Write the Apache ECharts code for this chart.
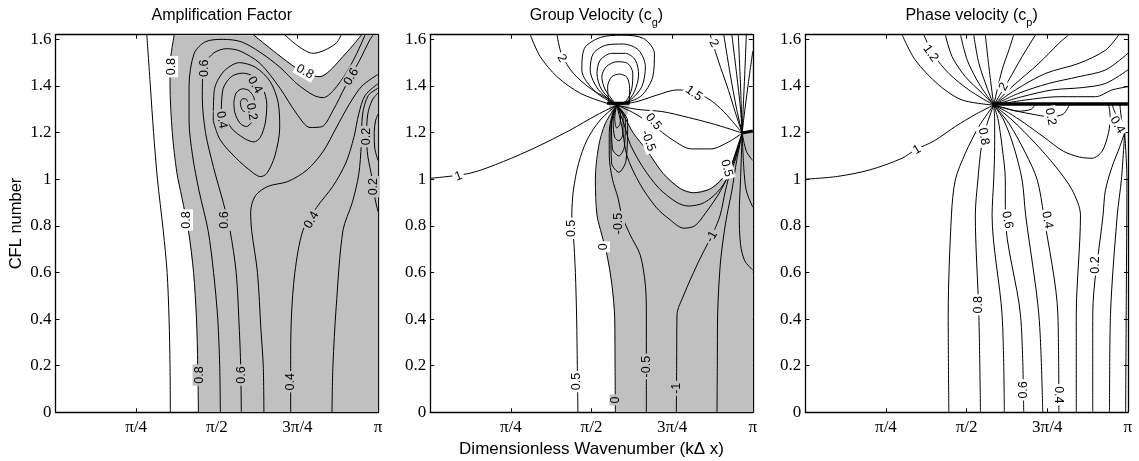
<!DOCTYPE html>
<html><head><meta charset="utf-8">
<script src="https://cdn.jsdelivr.net/npm/echarts@6/dist/echarts.min.js"></script>
<style>html,body{margin:0;padding:0;background:#fff}#c{width:1139px;height:461px}</style>
</head><body><div id="c"></div>
<script>
// ---------- axes ----------
const xTickLabels = ['', 'π/4', 'π/2', '3π/4', 'π'];   // x in units of π
const yMax = 1.62;
const panelTitles = ['Amplification Factor', 'Group Velocity (c{s|g})', 'Phase velocity (c{s|p})'];
const yName = 'CFL number';
const xName = 'Dimensionless Wavenumber (kΔ x)';

// ---------- panel 1 : amplification factor contours [k/π, CFL] ----------
const amp09 = [[0.356,0],[0.355,0.2],[0.352,0.4],[0.346,0.6],[0.334,0.78],[0.316,1.0],[0.304,1.2],[0.294,1.4],[0.283,1.62]];
const amp08a = [[0.443,0],[0.441,0.2],[0.437,0.4],[0.428,0.6],[0.412,0.78],[0.392,0.92],[0.376,1.03],[0.362,1.2],[0.355,1.41],[0.357,1.52],[0.368,1.62]];
const amp08b = [[0.613,1.62],[0.685,1.54],[0.747,1.476],[0.79,1.447],[0.82,1.44],[0.85,1.465],[0.881,1.511],[0.923,1.576],[0.949,1.62]];
const amp09b = [[0.71,1.62],[0.757,1.566],[0.799,1.54],[0.835,1.554],[0.871,1.585],[0.886,1.62]];
const amp07 = [[0.511,0],[0.509,0.2],[0.503,0.4],[0.49,0.6],[0.473,0.78],[0.445,0.95],[0.425,1.1],[0.414,1.25],[0.414,1.4],[0.43,1.54],[0.465,1.59],[0.52,1.6],[0.575,1.59],[0.634,1.545],[0.696,1.48],[0.748,1.41],[0.8,1.36],[0.83,1.35],[0.861,1.38],[0.903,1.46],[0.934,1.54],[0.96,1.62]];
const amp06 = [[0.576,0],[0.574,0.2],[0.57,0.35],[0.56,0.6],[0.541,0.78],[0.52,0.9],[0.49,1.05],[0.465,1.2],[0.455,1.35],[0.458,1.476],[0.489,1.54],[0.53,1.56],[0.572,1.55],[0.634,1.497],[0.696,1.39],[0.748,1.28],[0.789,1.222],[0.825,1.225],[0.861,1.297],[0.898,1.397],[0.943,1.511],[0.974,1.597],[0.985,1.62]];
const amp05loop = [[0.489,1.25],[0.492,1.38],[0.52,1.46],[0.57,1.5],[0.62,1.48],[0.665,1.42],[0.69,1.33],[0.695,1.22],[0.68,1.1],[0.655,1.025],[0.635,1.011],[0.61,1.03],[0.56,1.09],[0.51,1.17],[0.489,1.25]];
const amp04loop = [[0.514,1.3],[0.52,1.39],[0.545,1.44],[0.58,1.455],[0.615,1.44],[0.643,1.39],[0.655,1.32],[0.65,1.24],[0.635,1.18],[0.615,1.16],[0.585,1.175],[0.545,1.22],[0.514,1.3]];
const amp03loop = [[0.553,1.33],[0.56,1.37],[0.58,1.388],[0.6,1.38],[0.615,1.35],[0.618,1.3],[0.608,1.245],[0.592,1.226],[0.572,1.24],[0.556,1.285],[0.553,1.33]];
const amp02loop = [[0.573,1.33],[0.58,1.345],[0.59,1.345],[0.596,1.325],[0.594,1.3],[0.585,1.29],[0.576,1.305],[0.573,1.33]];
const amp05 = [[0.646,0],[0.644,0.2],[0.637,0.35],[0.626,0.6],[0.608,0.78],[0.605,0.86],[0.62,0.93],[0.66,0.97],[0.72,0.99],[0.78,1.04],[0.83,1.12],[0.87,1.22],[0.91,1.32],[0.95,1.4],[1.0,1.45]];
const amp04 = [[0.729,0],[0.729,0.2],[0.731,0.4],[0.742,0.6],[0.767,0.78],[0.81,0.88],[0.86,0.97],[0.9,1.07],[0.925,1.18],[0.94,1.28],[0.96,1.36],[1.0,1.41]];
const amp03 = [[0.857,0],[0.86,0.2],[0.87,0.45],[0.891,0.78],[0.92,0.9],[0.94,1.02],[0.948,1.15],[0.952,1.28],[0.97,1.36],[1.0,1.39]];
const amp02 = [[1.0,0.86],[0.99,0.92],[0.982,1.0],[0.968,1.1],[0.964,1.183],[0.968,1.28],[0.982,1.34],[1.0,1.37]];
const amp01 = [[1.0,1.08],[0.99,1.13],[0.988,1.2],[0.992,1.25],[1.0,1.28]];
const ampLabelsWhite = [[0.773,1.461,'0.8',-30],[0.36,1.483,'0.8',90],[0.406,0.825,'0.8',90]];
const ampLabelsGrey = [[0.463,1.476,'0.6',90],[0.618,1.404,'0.4',-60],[0.608,1.29,'0.2',-80],[0.515,1.254,'0.4',-80],
  [0.917,1.44,'0.6',60],[0.964,1.183,'0.2',90],[0.985,0.968,'0.2',90],[0.445,0.16,'0.8',90],[0.577,0.16,'0.6',90],[0.729,0.131,'0.4',90],
  [0.525,0.825,'0.6',90],[0.794,0.825,'0.4',60]];

// ---------- panel 2 : group velocity contours ----------
const gv1Left = [[0,1.004],[0.124,1.026],[0.227,1.076],[0.331,1.139],[0.434,1.211],[0.517,1.276],[0.578,1.318]];
const gv15Left = [[0.31,1.62],[0.341,1.526],[0.393,1.44],[0.465,1.369],[0.548,1.326],[0.578,1.318]];
const gv2Left = [[0.393,1.62],[0.408,1.533],[0.444,1.454],[0.496,1.39],[0.548,1.347],[0.578,1.318]];
const gvLoopA = [[0.578,1.318],[0.512,1.375],[0.47,1.468],[0.478,1.561],[0.527,1.608],[0.594,1.618],[0.661,1.604],[0.695,1.54],[0.69,1.44],[0.651,1.354],[0.578,1.318]];
const gvLoopB = [[0.578,1.318],[0.522,1.383],[0.496,1.469],[0.506,1.54],[0.548,1.576],[0.599,1.58],[0.646,1.554],[0.667,1.483],[0.656,1.397],[0.62,1.34],[0.578,1.318]];
const gvLoopC = [[0.578,1.318],[0.532,1.383],[0.517,1.454],[0.527,1.511],[0.563,1.54],[0.605,1.54],[0.636,1.511],[0.646,1.447],[0.633,1.376],[0.61,1.333],[0.578,1.318]];
const gvLoopD = [[0.578,1.318],[0.543,1.383],[0.532,1.44],[0.546,1.483],[0.579,1.504],[0.612,1.497],[0.628,1.454],[0.625,1.39],[0.608,1.337],[0.578,1.318]];
const gvLoopE = [[0.553,1.326],[0.55,1.397],[0.563,1.44],[0.587,1.451],[0.61,1.437],[0.618,1.39],[0.618,1.326]];
const gvThick1 = [[0.548,1.326],[0.618,1.326]];
const gvTear = [[0.553,1.326],[0.618,1.326],[0.612,1.28],[0.596,1.25],[0.583,1.245],[0.568,1.26],[0.556,1.3]];
const gv15Right = [[0.578,1.318],[0.641,1.333],[0.703,1.361],[0.765,1.383],[0.817,1.376],[0.868,1.34],[0.91,1.29],[0.946,1.233],[0.967,1.198]];
const gv1Right = [[0.578,1.318],[0.64,1.3],[0.72,1.29],[0.8,1.265],[0.87,1.24],[0.93,1.215],[0.967,1.198]];
const gv05Right = [[0.578,1.318],[0.63,1.285],[0.69,1.232],[0.75,1.17],[0.81,1.13],[0.87,1.13],[0.925,1.16],[0.967,1.198]];
const gv0Right = [[0.578,1.318],[0.605,1.26],[0.63,1.197],[0.671,1.125],[0.722,1.025],[0.775,0.96],[0.816,0.942],[0.87,0.96],[0.919,1.025],[0.955,1.14],[0.967,1.198]];
const gvM05Right = [[0.578,1.318],[0.6,1.24],[0.62,1.15],[0.66,1.05],[0.71,0.96],[0.765,0.9],[0.8,0.885],[0.85,0.9],[0.9,0.96],[0.94,1.06],[0.967,1.198]];
const gvM1U = [[0.578,1.318],[0.595,1.22],[0.61,1.1],[0.65,0.98],[0.7,0.88],[0.74,0.83],[0.786,0.79],[0.82,0.8],[0.853,0.854],[0.9,0.95],[0.94,1.07],[0.967,1.198]];
const gvHpA = [[0.578,1.318],[0.572,1.26],[0.578,1.22],[0.588,1.235],[0.59,1.28],[0.578,1.318]];
const gvHpB = [[0.578,1.318],[0.567,1.25],[0.572,1.18],[0.585,1.165],[0.597,1.19],[0.598,1.27],[0.578,1.318]];
const gvHpC = [[0.578,1.318],[0.562,1.24],[0.565,1.13],[0.585,1.1],[0.602,1.14],[0.605,1.26],[0.578,1.318]];
const gvHpD = [[0.578,1.318],[0.56,1.23],[0.562,1.07],[0.585,1.03],[0.607,1.08],[0.612,1.25],[0.578,1.318]];
const gv05 = [[0.458,0],[0.456,0.2],[0.454,0.4],[0.45,0.6],[0.444,0.76],[0.439,0.846],[0.444,0.954],[0.46,1.068],[0.486,1.168],[0.527,1.254],[0.578,1.318]];
const gv0 = [[0.574,0],[0.573,0.2],[0.572,0.4],[0.563,0.55],[0.548,0.675],[0.532,0.761],[0.517,0.846],[0.512,0.997],[0.522,1.14],[0.543,1.24],[0.578,1.318]];
const gvM05 = [[0.67,0],[0.67,0.2],[0.67,0.418],[0.667,0.546],[0.651,0.675],[0.62,0.761],[0.594,0.846],[0.582,0.92],[0.565,1.0],[0.555,1.1],[0.555,1.2],[0.565,1.28],[0.578,1.318]];
const gvM1 = [[0.763,0],[0.764,0.2],[0.765,0.418],[0.786,0.503],[0.827,0.632],[0.858,0.718],[0.879,0.776],[0.899,0.846],[0.915,0.95],[0.935,1.06],[0.955,1.15],[0.967,1.198]];
const gvM15 = [[0.889,0],[0.89,0.2],[0.891,0.418],[0.899,0.632],[0.91,0.761],[0.92,0.846],[0.935,0.95],[0.95,1.08],[0.96,1.15],[0.967,1.198]];
const gvM2 = [[0.967,1.198],[0.962,1.0],[0.958,0.85],[0.962,0.72],[0.975,0.65],[1.0,0.61]];
const gvM3 = [[0.967,1.198],[0.972,1.05],[0.98,0.95],[1.0,0.88]];
const gvM4 = [[0.967,1.198],[0.98,1.12],[1.0,1.08]];
const gv2Right = [[0.868,1.62],[0.879,1.569],[0.9,1.48],[0.925,1.38],[0.945,1.29],[0.967,1.198]];
const gv25Right = [[0.91,1.62],[0.93,1.45],[0.95,1.3],[0.967,1.198]];
const gv3Right = [[0.935,1.62],[0.95,1.45],[0.962,1.3],[0.967,1.198]];
const gv4Right = [[0.955,1.62],[0.962,1.4],[0.967,1.198]];
const gv5Right = [[0.98,1.62],[0.975,1.45],[0.97,1.3],[0.967,1.198]];
const gv6Right = [[1.0,1.55],[0.985,1.4],[0.972,1.26],[0.967,1.198]];
const gvThick2 = [[0.967,1.198],[1.0,1.207]];
const gvLabelsWhite = [[0.088,1.012,'1',20],[0.408,1.519,'2',-60],[0.817,1.368,'1.5',-35],[0.692,1.247,'0.5',-50],[0.879,1.583,'2',-60],
  [0.919,1.047,'0.5',-75],[0.439,0.789,'0.5',90],[0.537,0.71,'0',90],[0.455,0.132,'0.5',90],[0.676,1.165,'-0.5',-70]];
const gvLabelsGrey = [[0.584,0.81,'-0.5',90],[0.873,0.753,'-1',60],[0.576,0.053,'0',90],[0.672,0.196,'-0.5',90],[0.765,0.103,'-1',90]];

// ---------- panel 3 : phase velocity contours ----------
const cp1 = [[0,1.0],[0.1,1.012],[0.2,1.04],[0.3,1.09],[0.341,1.126],[0.4,1.165],[0.465,1.226],[0.53,1.28],[0.584,1.318]];
const cp11 = [[0.3,1.62],[0.341,1.511],[0.414,1.404],[0.486,1.34],[0.584,1.318]];
const cp12 = [[0.367,1.62],[0.398,1.533],[0.445,1.454],[0.507,1.383],[0.584,1.318]];
const cp13 = [[0.434,1.62],[0.455,1.526],[0.496,1.44],[0.548,1.369],[0.584,1.318]];
const cp14 = [[0.481,1.62],[0.502,1.511],[0.538,1.411],[0.584,1.318]];
const cp15 = [[0.522,1.62],[0.538,1.497],[0.564,1.39],[0.584,1.318]];
const cp16 = [[0.558,1.62],[0.569,1.483],[0.584,1.318]];
const cpU1 = [[0.584,1.318],[0.61,1.469],[0.631,1.554],[0.646,1.62]];
const cpU2 = [[0.584,1.318],[0.631,1.426],[0.672,1.526],[0.714,1.62]];
const cpU3 = [[0.584,1.318],[0.641,1.397],[0.724,1.497],[0.786,1.583],[0.817,1.62]];
const cpU4 = [[0.584,1.318],[0.651,1.383],[0.745,1.454],[0.848,1.497],[0.931,1.554],[0.972,1.62]];
const cpU5 = [[0.584,1.318],[0.662,1.369],[0.755,1.411],[0.848,1.44],[0.931,1.469],[1.0,1.54]];
const cpU6 = [[0.584,1.318],[0.672,1.354],[0.765,1.383],[0.858,1.393],[0.931,1.411],[1.0,1.469]];
const cpU7 = [[0.584,1.318],[0.683,1.34],[0.786,1.354],[0.9,1.354],[0.951,1.383],[1.0,1.397]];
const cp09 = [[0.445,0],[0.443,0.418],[0.453,0.846],[0.465,0.997],[0.496,1.111],[0.538,1.226],[0.584,1.318]];
const cp08 = [[0.543,0],[0.538,0.418],[0.527,0.846],[0.535,0.997],[0.546,1.14],[0.564,1.24],[0.584,1.318]];
const cp07 = [[0.617,0],[0.61,0.418],[0.579,0.846],[0.584,0.997],[0.587,1.14],[0.587,1.25],[0.584,1.318]];
const cp06 = [[0.677,0],[0.667,0.418],[0.62,0.846],[0.62,0.997],[0.61,1.14],[0.597,1.26],[0.584,1.318]];
const cp05 = [[0.736,0],[0.724,0.418],[0.683,0.846],[0.672,0.997],[0.646,1.14],[0.615,1.254],[0.584,1.318]];
const cp04 = [[0.786,0],[0.783,0.418],[0.739,0.846],[0.719,0.997],[0.683,1.111],[0.631,1.24],[0.584,1.318]];
const cp03 = [[0.84,0],[0.84,0.418],[0.853,0.846],[0.827,0.954],[0.776,1.054],[0.713,1.154],[0.641,1.254],[0.584,1.318]];
const cp02 = [[0.891,0],[0.891,0.418],[0.923,0.846],[0.93,0.95],[0.95,1.05],[0.975,1.14],[0.99,1.2]];
const cp01 = [[0.943,0],[0.946,0.418],[0.967,0.846],[0.98,1.0],[0.99,1.2]];
const cp00 = [[0.993,0],[0.995,0.5],[0.997,1.0],[0.99,1.2]];
const cpLoopU = [[0.584,1.318],[0.63,1.285],[0.68,1.24],[0.74,1.18],[0.8,1.12],[0.85,1.095],[0.889,1.09],[0.92,1.12],[0.94,1.2],[0.945,1.27],[0.94,1.323]];
const cpLoop2 = [[0.584,1.318],[0.63,1.3],[0.7,1.28],[0.76,1.268],[0.8,1.28],[0.82,1.323]];
const cpBump = [[0.584,1.318],[0.62,1.305],[0.66,1.292],[0.7,1.3],[0.713,1.323]];
const cpS2a = [[0.95,1.323],[0.965,1.27],[0.99,1.2]];
const cpS2b = [[0.975,1.323],[0.98,1.26],[0.99,1.2]];
const cpThick = [[0.584,1.323],[1.0,1.323]];
const cpLabels = [[0.388,1.54,'1.2',-55],[0.346,1.126,'1',30],[0.615,1.397,'2',60],[0.553,1.183,'0.8',-80],[0.76,1.268,'0.2',-80],
  [0.967,1.233,'0.4',-60],[0.626,0.825,'0.6',-80],[0.75,0.825,'0.4',-80],[0.536,0.461,'0.8',90],[0.9,0.632,'0.2',90],[0.677,0.096,'0.6',90],[0.786,0.075,'0.4',-90]];

// ---------- build ----------
const ampLines = [amp09, amp08a, amp08b, amp09b, amp07, amp06, amp05loop, amp04loop, amp03loop, amp02loop, amp05, amp04, amp03, amp02, amp01];
const ampGrey = [amp08a.concat(amp08b, [[1, yMax], [1, 0]])];
const gvLines = [gv1Left, gv15Left, gv2Left, gvLoopA, gvLoopB, gvLoopC, gvLoopD, gvLoopE, gv15Right, gv1Right, gv05Right, gv0Right, gvM05Right, gvM1U,
  gvHpA, gvHpB, gvHpC, gvHpD, gv05, gv0, gvM05, gvM1, gvM15, gvM2, gvM3, gvM4, gv2Right, gv25Right, gv3Right, gv4Right, gv5Right, gv6Right];
const gvGrey = [gv0.concat(gv0Right.slice(1), gvThick2.slice(1), [[1, 0]]), gvTear];
const cpLines = [cp1, cp11, cp12, cp13, cp14, cp15, cp16, cpU1, cpU2, cpU3, cpU4, cpU5, cpU6, cpU7, cp09, cp08, cp07, cp06, cp05, cp04, cp03, cp02, cp01, cp00, cpLoopU, cpLoop2, cpBump, cpS2a, cpS2b];

const GREY = '#c0c0c0';
const gridLeft = [55.5, 430.2, 805.3];
const grids = gridLeft.map(l => ({left: l, top: 34.7, width: 322.6, height: 377.6, outerBoundsMode: 'none', containLabel: false}));

const xAxes = [], yAxes = [];
for (let g = 0; g < 3; g++) {
  const common = {gridIndex: g, type: 'value', min: 0, splitLine: {show: false},
    axisLine: {onZero: false, lineStyle: {color: '#000', width: 1.3}},
    axisTick: {inside: true, length: 4, lineStyle: {color: '#000', width: 1}}};
  xAxes.push(Object.assign({}, common, {position: 'bottom', max: 1, interval: 0.25,
    name: g === 1 ? xName : '', nameLocation: 'middle', nameGap: 29,
    nameTextStyle: {fontFamily: 'Liberation Sans', fontSize: 17, color: '#000'},
    axisLabel: {formatter: v => xTickLabels[Math.round(v * 4)] || '', fontFamily: 'Liberation Serif', fontSize: 17, color: '#000', margin: 7}}));
  xAxes.push(Object.assign({}, common, {position: 'top', max: 1, interval: 0.25, axisLabel: {show: false}}));
  yAxes.push(Object.assign({}, common, {position: 'left', max: yMax, interval: 0.2,
    name: g === 0 ? yName : '', nameLocation: 'middle', nameGap: 31, nameRotate: 90,
    nameTextStyle: {fontFamily: 'Liberation Sans', fontSize: 16.5, color: '#000'},
    axisLabel: {formatter: v => String(Math.round(v * 10) / 10), showMaxLabel: false, fontFamily: 'Liberation Serif', fontSize: 17, color: '#000', margin: 4}}));
  yAxes.push(Object.assign({}, common, {position: 'right', max: yMax, interval: 0.2, axisLabel: {show: false}}));
}

function lineSeries(lines, g, width) {
  return lines.map(d => ({type: 'line', xAxisIndex: 2 * g, yAxisIndex: 2 * g, data: d, symbol: 'none', smooth: 0.3,
    lineStyle: {color: '#000', width: width || 1}, silent: true, animation: false, z: 3}));
}
function greySeries(polys, g) {
  return polys.map(poly => ({type: 'custom', xAxisIndex: 2 * g, yAxisIndex: 2 * g, coordinateSystem: 'cartesian2d',
    data: [[0, 0]], silent: true, animation: false, z: 1, clip: true,
    renderItem: (params, api) => ({type: 'polygon', shape: {points: poly.map(p => api.coord(p))}, style: {fill: GREY}})}));
}
function labelSeries(labels, g, bg) {
  return {type: 'scatter', xAxisIndex: 2 * g, yAxisIndex: 2 * g, symbolSize: 2, itemStyle: {color: 'rgba(0,0,0,0)'}, silent: true, animation: false, z: 5,
    data: labels.map(l => ({value: [l[0], l[1]], label: {show: true, position: 'inside', formatter: l[2], rotate: l[3], opacity: 1,
      backgroundColor: bg, padding: [0, 2], fontSize: 12.5, fontFamily: 'Liberation Sans', color: '#000', textBorderWidth: 0}}))};
}

const series = [].concat(
  greySeries(ampGrey, 0), lineSeries(ampLines, 0), [labelSeries(ampLabelsWhite, 0, '#fff'), labelSeries(ampLabelsGrey, 0, GREY)],
  greySeries(gvGrey, 1), lineSeries(gvLines, 1), lineSeries([gvThick1, gvThick2], 1, 3),
  [labelSeries(gvLabelsWhite, 1, '#fff'), labelSeries(gvLabelsGrey, 1, GREY)],
  lineSeries(cpLines, 2), lineSeries([cpThick], 2, 3.5), [labelSeries(cpLabels, 2, '#fff')]
);

const titles = panelTitles.map((t, g) => ({text: t, left: gridLeft[g] + 161.3, top: -1, textAlign: 'center',
  textStyle: {fontFamily: 'Liberation Sans', fontSize: 16, fontWeight: 'normal', color: '#000', lineHeight: 24,
    rich: {s: {fontFamily: 'Liberation Sans', fontSize: 11, lineHeight: 11, verticalAlign: 'bottom', color: '#000'}}}}));

const chart = echarts.init(document.getElementById('c'), null, {renderer: 'canvas'});
chart.setOption({animation: false, backgroundColor: '#fff', title: titles, grid: grids, xAxis: xAxes, yAxis: yAxes, series: series});
</script></body></html>
